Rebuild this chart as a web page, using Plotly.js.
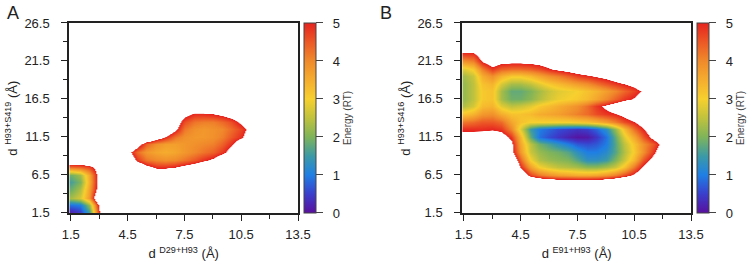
<!DOCTYPE html>
<html>
<head>
<meta charset="utf-8">
<script src="https://cdn.plot.ly/plotly-3.0.1.min.js"></script>
<style>
  html, body { margin: 0; padding: 0; background: #fff; }
  #chart { width: 750px; height: 264px; }
</style>
</head>
<body>
<div id="chart"></div>
<script>
// Free-energy landscapes (energy in RT) on a distance grid, in Å.
const distGrid = [1.5, 2.0, 2.5, 3.0, 3.5, 4.0, 4.5, 5.0, 5.5, 6.0, 6.5, 7.0, 7.5,
                  8.0, 8.5, 9.0, 9.5, 10.0, 10.5, 11.0, 11.5, 12.0, 12.5, 13.0, 13.5];
const distGridY = [1.5, 2.5, 3.5, 4.5, 5.5, 6.5, 7.5, 8.5, 9.5, 10.5, 11.5, 12.5, 13.5,
                   14.5, 15.5, 16.5, 17.5, 18.5, 19.5, 20.5, 21.5, 22.5, 23.5, 24.5, 25.5, 26.5];

const xTickVals = [1.5, 4.5, 7.5, 10.5, 13.5];
const yTickVals = [1.5, 6.5, 11.5, 16.5, 21.5, 26.5];
const energyTicks = [0, 1, 2, 3, 4, 5];

// Panel A: d(D29-H93) vs d(H93-S419). Rows listed from y = 26.5 down to 1.5.
const energyA_rows = [
  [7,7,7,7,7,7,7,7,7,7,7,7,7,7,7,7,7,7,7,7,7,7,7,7,7],
  [7,7,7,7,7,7,7,7,7,7,7,7,7,7,7,7,7,7,7,7,7,7,7,7,7],
  [7,7,7,7,7,7,7,7,7,7,7,7,7,7,7,7,7,7,7,7,7,7,7,7,7],
  [7,7,7,7,7,7,7,7,7,7,7,7,7,7,7,7,7,7,7,7,7,7,7,7,7],
  [7,7,7,7,7,7,7,7,7,7,7,7,7,7,7,7,7,7,7,7,7,7,7,7,7],
  [7,7,7,7,7,7,7,7,7,7,7,7,7,7,7,7,7,7,7,7,7,7,7,7,7],
  [7,7,7,7,7,7,7,7,7,7,7,7,7,7,7,7,7,7,7,7,7,7,7,7,7],
  [7,7,7,7,7,7,7,7,7,7,7,7,7,7,7,7,7,7,7,7,7,7,7,7,7],
  [7,7,7,7,7,7,7,7,7,7,7,7,7,7,7,7,7,7,7,7,7,7,7,7,7],
  [7,7,7,7,7,7,7,7,7,7,7,7,7,7,7,7,7,7,7,7,7,7,7,7,7],
  [7,7,7,7,7,7,7,7,7,7,7,7,7,7,7,7,7,7,7,7,7,7,7,7,7],
  [7,7,7,7,7,7,7,7,7,7,7,6.5,6.0,5.9,5.9,6.0,6.2,6.5,7,7,7,7,7,7,7],
  [7,7,7,7,7,7,7,7,7,7,7,6.0,5.3,4.9,4.9,5.0,5.2,5.5,6.0,6.5,7,7,7,7,7],
  [7,7,7,7,7,7,7,7,7,7,6.5,5.6,4.6,4.2,4.1,4.1,4.3,4.6,5.2,6.0,7,7,7,7,7],
  [7,7,7,7,7,7,7,7,7,7,6.2,5.2,4.2,3.9,3.8,3.9,4.0,4.3,4.7,5.3,6.2,7,7,7,7],
  [7,7,7,7,7,7,7,7,6.5,5.6,4.95,4.2,3.9,3.8,3.8,3.9,4.1,4.5,4.9,5.6,6.5,7,7,7,7],
  [7,7,7,7,7,7,7,5.5,4.4,3.9,3.7,3.7,3.8,3.9,4.0,4.1,4.4,4.9,5.7,6.5,7,7,7,7,7],
  [7,7,7,7,7,7,5.4,4.3,3.8,3.6,3.5,3.6,3.8,4.0,4.2,4.4,4.8,5.4,6.3,7,7,7,7,7,7],
  [6.1,6.1,6.3,7,7,7,6.0,4.8,4.2,4.0,3.9,4.0,4.2,4.5,4.85,5.2,5.8,6.5,7,7,7,7,7,7,7],
  [4.3,4.4,4.7,5.6,7,7,7,6.0,5.3,4.85,4.85,5.0,5.3,5.6,6.0,6.5,7,7,7,7,7,7,7,7,7],
  [1.9,2.3,3.6,5.5,7,7,7,7,6.5,6.0,6.0,6.2,6.5,7,7,7,7,7,7,7,7,7,7,7,7],
  [1.6,2.0,3.5,5.5,7,7,7,7,7,7,7,7,7,7,7,7,7,7,7,7,7,7,7,7,7],
  [1.9,2.4,3.7,5.6,7,7,7,7,7,7,7,7,7,7,7,7,7,7,7,7,7,7,7,7,7],
  [2.3,2.7,3.8,6.5,7,7,7,7,7,7,7,7,7,7,7,7,7,7,7,7,7,7,7,7,7],
  [0.9,1.0,2.2,5.3,7,7,7,7,7,7,7,7,7,7,7,7,7,7,7,7,7,7,7,7,7],
  [0.1,0.4,1.5,4.9,7,7,7,7,7,7,7,7,7,7,7,7,7,7,7,7,7,7,7,7,7]
];

// Panel B: d(E91-H93) vs d(H93-S416). Rows listed from y = 26.5 down to 1.5.
const energyB_rows = [
  [7,7,7,7,7,7,7,7,7,7,7,7,7,7,7,7,7,7,7,7,7,7,7,7,7],
  [7,7,7,7,7,7,7,7,7,7,7,7,7,7,7,7,7,7,7,7,7,7,7,7,7],
  [7,7,7,7,7,7,7,7,7,7,7,7,7,7,7,7,7,7,7,7,7,7,7,7,7],
  [6.0,6.0,6.5,7,7,7,7,7,7,7,7,7,7,7,7,7,7,7,7,7,7,7,7,7,7],
  [4.9,4.95,5.7,6.5,6.0,5.9,5.9,6.0,6.1,6.2,6.3,6.5,6.7,7,7,7,7,7,7,7,7,7,7,7,7],
  [3.9,4.1,5.1,5.6,5.3,5.25,5.25,5.3,5.4,5.6,5.8,6.0,6.2,6.4,6.6,6.8,7,7,7,7,7,7,7,7,7],
  [2.8,3.1,4.1,4.8,4.4,4.3,4.3,4.4,4.6,4.95,5.2,5.4,5.6,5.8,6.0,6.2,6.5,7,7,7,7,7,7,7,7],
  [2.3,2.6,3.5,3.9,3.4,3.1,3.1,3.3,3.6,3.9,4.1,4.4,4.7,4.9,5.1,5.3,5.6,6.0,6.5,7,7,7,7,7,7],
  [2.2,2.5,3.2,3.4,2.7,2.3,2.3,2.5,2.8,3.1,3.3,3.5,3.7,3.9,4.2,4.5,4.75,5.0,5.3,5.8,6.5,7,7,7,7],
  [2.2,2.5,3.1,3.2,2.3,1.8,1.8,2.0,2.3,2.6,2.8,2.9,3.0,3.2,3.4,3.7,4.0,4.35,4.7,5.15,5.8,6.5,7,7,7],
  [2.2,2.5,3.1,3.2,2.3,1.9,1.9,2.1,2.4,2.7,2.9,3.0,3.1,3.3,3.6,4.0,4.4,4.8,5.1,5.6,6.2,7,7,7,7],
  [2.4,2.7,3.3,3.4,2.8,2.5,2.6,2.8,3.1,3.3,3.5,3.7,3.9,4.3,4.8,5.2,5.6,6.0,6.3,6.6,7,7,7,7,7],
  [3.2,3.4,3.8,3.9,3.5,3.2,3.2,3.3,3.5,3.6,3.7,3.9,4.1,4.3,4.6,4.8,4.97,5.3,5.7,6.2,7,7,7,7,7],
  [4.2,4.3,4.5,4.5,4.3,3.6,3.2,3.0,3.0,3.0,3.0,3.0,3.1,3.2,3.4,3.7,4.1,4.6,5.0,5.5,6.2,7,7,7,7],
  [4.9,4.9,4.9,4.95,4.8,4.0,2.8,1.5,1.0,0.8,0.6,0.5,0.4,0.5,0.8,1.3,2.2,3.3,4.3,5.0,5.6,6.5,7,7,7],
  [5.3,5.3,5.4,5.5,5.5,4.8,3.4,1.8,0.9,0.6,0.4,0.2,0.05,0.1,0.4,0.9,1.8,2.8,3.6,4.5,5.3,6.0,7,7,7],
  [7,7,7,6.5,6.0,5.2,3.6,2.5,1.9,1.6,1.3,1.0,0.7,0.6,0.7,1.0,1.7,2.5,3.2,3.9,4.5,5.3,6.0,7,7],
  [7,7,7,7,6.5,5.3,3.8,2.6,2.2,2.0,1.9,1.7,1.3,1.0,1.0,1.2,1.7,2.4,3.1,3.9,4.8,5.8,7,7,7],
  [7,7,7,7,7,6.0,4.4,3.0,2.4,2.2,2.1,2.0,1.7,1.3,1.3,1.5,2.0,2.6,3.4,4.5,5.4,6.5,7,7,7],
  [7,7,7,7,7,7,4.95,3.7,3.0,2.7,2.5,2.4,2.3,2.1,2.1,2.3,2.6,3.2,4.2,5.2,6.2,7,7,7,7],
  [7,7,7,7,7,7,6.0,4.7,4.2,3.9,3.7,3.6,3.5,3.5,3.6,3.8,4.1,4.6,5.2,6.0,7,7,7,7,7],
  [7,7,7,7,7,7,7,6.5,6.2,6.0,5.9,5.9,5.9,5.9,5.9,6.0,6.3,6.6,7,7,7,7,7,7,7],
  [7,7,7,7,7,7,7,7,7,7,7,7,7,7,7,7,7,7,7,7,7,7,7,7,7],
  [7,7,7,7,7,7,7,7,7,7,7,7,7,7,7,7,7,7,7,7,7,7,7,7,7],
  [7,7,7,7,7,7,7,7,7,7,7,7,7,7,7,7,7,7,7,7,7,7,7,7,7],
  [7,7,7,7,7,7,7,7,7,7,7,7,7,7,7,7,7,7,7,7,7,7,7,7,7]
];

const energyA = energyA_rows.slice().reverse();
const energyB = energyB_rows.slice().reverse();

// Colour ramp in energy units (RT); anything above the cutoff is left white.
const E_MAX = 5, Z_TOP = 7;
const ramp = [
  [0.0, '#5a0f9e'], [0.5, '#3a3fcc'], [1.0, '#1f7fe4'], [1.5, '#3c9aa6'],
  [2.0, '#7fb45a'], [2.5, '#c0c23e'], [3.0, '#f7d02e'], [3.5, '#f5ad2e'],
  [4.0, '#f08a2b'], [4.5, '#ec5826'], [5.0, '#e6231f']
];
const barScale = ramp.map(([e, c]) => [e / E_MAX, c]);
const mapScale = ramp.map(([e, c]) => [e / Z_TOP, c])
  .concat([[(E_MAX + 0.03) / Z_TOP, '#ffffff'], [1, '#ffffff']]);

const FONT = 'Liberation Sans, Arial, Helvetica, sans-serif';
const INK = '#222';
const GAP = '\u00a0\u00a0';

function landscape(z, xa, ya) {
  return {
    type: 'heatmap', x: distGrid, y: distGridY, z: z,
    xaxis: xa, yaxis: ya, zmin: 0, zmax: Z_TOP, zsmooth: 'best',
    colorscale: mapScale, showscale: false, hoverinfo: 'skip'
  };
}

function energyBar(xa, ya, xpos) {
  return {
    type: 'scatter', mode: 'markers', x: [null], y: [null],
    xaxis: xa, yaxis: ya, hoverinfo: 'skip', showlegend: false,
    marker: {
      color: [0], cmin: 0, cmax: E_MAX, colorscale: barScale, showscale: true,
      colorbar: {
        x: xpos, xanchor: 'left', xpad: 0, y: 0.913, yanchor: 'top', ypad: 0,
        len: 190 / 264, lenmode: 'fraction', thickness: 12, thicknessmode: 'pixels',
        outlinewidth: 1, outlinecolor: '#444',
        ticks: 'outside', ticklen: 7, tickwidth: 1, tickcolor: '#444',
        tickvals: energyTicks, ticktext: energyTicks.map(v => GAP + v),
        tickfont: { size: 13, color: INK, family: FONT },
        title: { text: 'Energy (RT)', side: 'right', font: { size: 10, color: '#444', family: FONT } }
      }
    }
  };
}

function xAxis(domain, titleText, anchor) {
  return {
    domain: domain, anchor: anchor, range: [1.42, 13.5],
    tickvals: xTickVals, ticktext: xTickVals.map(v => v.toFixed(1)),
    ticks: 'outside', ticklen: 6, tickwidth: 1, tickcolor: INK,
    minor: { tickvals: [3, 6, 9, 12], ticks: 'outside', ticklen: 4, tickcolor: INK },
    showline: true, linewidth: 2, linecolor: INK, mirror: true,
    showgrid: false, zeroline: false, ticklabelstandoff: 2,
    tickfont: { size: 13, color: INK, family: FONT },
    title: { text: titleText, font: { size: 13, color: INK, family: FONT }, standoff: 8 }
  };
}

function yAxis(domain, titleText, anchor) {
  return {
    domain: domain, anchor: anchor, range: [1.42, 26.5],
    tickvals: yTickVals, ticktext: yTickVals.map(v => v.toFixed(1)),
    ticks: 'outside', ticklen: 6, tickwidth: 1, tickcolor: INK,
    minor: { tickvals: [4, 9, 14, 19, 24], ticks: 'outside', ticklen: 4, tickcolor: INK },
    showline: true, linewidth: 2, linecolor: INK, mirror: true,
    showgrid: false, zeroline: false, ticklabelstandoff: 9,
    tickfont: { size: 13, color: INK, family: FONT },
    title: { text: titleText, font: { size: 13, color: INK, family: FONT }, standoff: 4 }
  };
}

const yDom = [0.192, 0.913];
const layout = {
  width: 750, height: 264,
  margin: { l: 0, r: 0, t: 0, b: 0 },
  paper_bgcolor: '#fff', plot_bgcolor: '#fff',
  font: { family: FONT, color: INK },
  showlegend: false,
  xaxis: xAxis([69.3 / 750, 298 / 750], 'd <sup>D29+H93</sup> (Å)', 'y'),
  yaxis: yAxis(yDom, 'd <sup>H93+S419</sup> (Å)', 'x'),
  xaxis2: xAxis([462.3 / 750, 691 / 750], 'd <sup>E91+H93</sup> (Å)', 'y2'),
  yaxis2: yAxis(yDom, 'd <sup>H93+S416</sup> (Å)', 'x2'),
  annotations: [
    { text: 'A', x: 5 / 750, y: 1 - 1 / 264, xref: 'paper', yref: 'paper',
      xanchor: 'left', yanchor: 'top', showarrow: false, font: { size: 18, color: INK, family: FONT } },
    { text: 'B', x: 378 / 750, y: 1 - 1 / 264, xref: 'paper', yref: 'paper',
      xanchor: 'left', yanchor: 'top', showarrow: false, font: { size: 18, color: INK, family: FONT } }
  ]
};

const data = [
  landscape(energyA, 'x', 'y'),
  landscape(energyB, 'x2', 'y2'),
  energyBar('x', 'y', 304 / 750),
  energyBar('x2', 'y2', 697 / 750)
];

Plotly.newPlot('chart', data, layout, { displayModeBar: false, staticPlot: true });
</script>
</body>
</html>
